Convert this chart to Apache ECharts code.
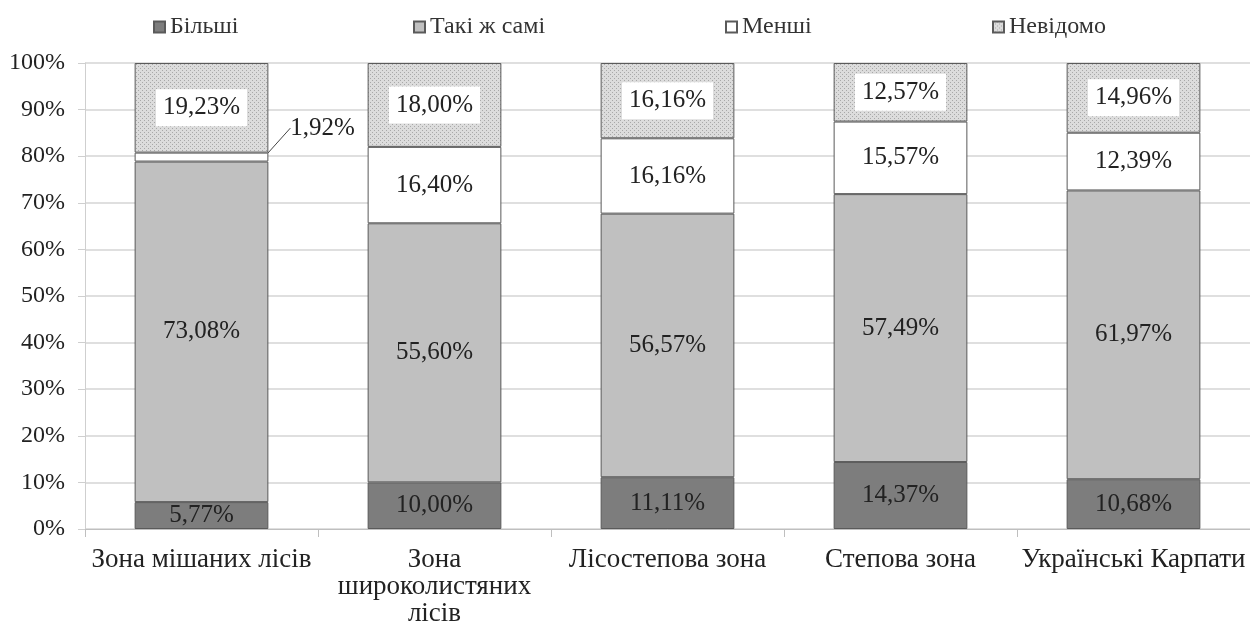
<!DOCTYPE html>
<html><head><meta charset="utf-8">
<script src="https://cdn.jsdelivr.net/npm/echarts@6/dist/echarts.min.js"></script>
<style>html,body{margin:0;padding:0;background:#fff}#c{width:1250px;height:637px}</style>
</head><body><div id="c"></div>
<script>
var categories = ['Зона мішаних лісів', 'Зона\nшироколистяних\nлісів', 'Лісостепова зона', 'Степова зона', 'Українські Карпати'];
var seriesNames = ['Більші', 'Такі ж самі', 'Менші', 'Невідомо'];
var more = [5.77, 10.00, 11.11, 14.37, 10.68];
var same = [73.08, 55.60, 56.57, 57.49, 61.97];
var less = [1.92, 16.40, 16.16, 15.57, 12.39];
var unknown = [19.23, 18.00, 16.16, 12.57, 14.96];
var yTicks = [0, 10, 20, 30, 40, 50, 60, 70, 80, 90, 100];

function makePattern() {
  var c = document.createElement('canvas');
  c.width = 4; c.height = 4;
  var g = c.getContext('2d');
  g.fillStyle = '#dcdcdc'; g.fillRect(0, 0, 4, 4);
  g.fillStyle = '#a8a8a8';
  g.fillRect(0, 0, 1, 1); g.fillRect(2, 2, 1, 1);
  return c;
}
var pattern = { image: makePattern(), repeat: 'repeat' };

var FONT = 'Liberation Serif, Times New Roman, serif';
function fmt(p) { return p.value.toFixed(2).replace('.', ',') + '%'; }

var labelBase = { show: true, position: 'inside', formatter: fmt, color: '#222', fontFamily: FONT, fontSize: 25 };

var lessData = less.map(function (v, i) {
  if (i === 0) {
    return {
      value: v,
      label: { position: 'right', distance: 2 },
      labelLine: { show: true, length2: 0, lineStyle: { color: '#444', width: 1 } }
    };
  }
  return v;
});

var border = { borderColor: '#5a5a5a', borderWidth: 1 };

var chart = echarts.init(document.getElementById('c'));
var legendText = { fontFamily: FONT, fontSize: 24, color: '#333' };
var legendLefts = [153, 413, 725, 992];
chart.setOption({
  animation: false,
  legend: seriesNames.map(function (n, i) {
    return { data: [n], left: legendLefts[i], top: 15, itemWidth: 11, itemHeight: 11, itemGap: 4, textStyle: legendText, icon: 'rect', padding: 0 };
  }),
  grid: { left: 85, right: -3, top: 63, bottom: 108 },
  xAxis: {
    type: 'category', data: categories,
    axisLine: { lineStyle: { color: '#bfbfbf', width: 1 } },
    axisTick: { show: true, length: 8, lineStyle: { color: '#bfbfbf' } },
    axisLabel: { color: '#222', fontFamily: FONT, fontSize: 27, lineHeight: 27, margin: 17, interval: 0 }
  },
  yAxis: {
    type: 'value', min: 0, max: 100, interval: 10,
    axisLine: { show: true, lineStyle: { color: '#cfcfcf' } },
    axisTick: { show: true, length: 7, lineStyle: { color: '#cfcfcf' } },
    splitLine: { lineStyle: { color: '#d4d4d4', width: 1.5 } },
    axisLabel: { color: '#222', fontFamily: FONT, fontSize: 24, margin: 20,
      formatter: function (v) { return yTicks.indexOf(v) >= 0 ? v + '%' : ''; } }
  },
  series: [
    { name: seriesNames[0], type: 'bar', stack: 't', data: more, barWidth: '57.4%',
      itemStyle: Object.assign({ color: '#7d7d7d' }, border), label: labelBase },
    { name: seriesNames[1], type: 'bar', stack: 't', data: same,
      itemStyle: Object.assign({ color: '#c0c0c0' }, border), label: labelBase },
    { name: seriesNames[2], type: 'bar', stack: 't', data: lessData,
      itemStyle: Object.assign({ color: '#ffffff' }, border), label: labelBase,
      labelLayout: function (p) {
        if (p.dataIndex === 0) {
          return { dx: 20, dy: -29 };
        }
        return {};
      } },
    { name: seriesNames[3], type: 'bar', stack: 't', data: unknown,
      itemStyle: Object.assign({ color: pattern }, border),
      label: Object.assign({}, labelBase, { backgroundColor: '#fff', padding: [6, 7] }) }
  ]
});
</script>
</body></html>
